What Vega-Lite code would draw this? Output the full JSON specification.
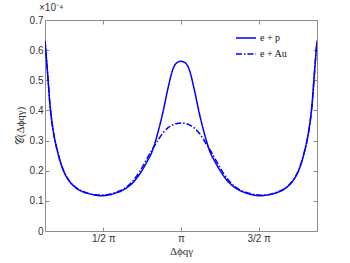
{
  "$schema": "https://vega.github.io/schema/vega-lite/v6.json",
  "width": 272,
  "height": 211,
  "autosize": "none",
  "padding": {"left": 45, "top": 20, "right": 33, "bottom": 32},
  "background": "white",
  "config": {
    "view": {"stroke": null},
    "axis": {"grid": false, "domainColor": "#8c8c8c", "tickColor": "#8c8c8c", "labelColor": "#333333", "labelFont": "Liberation Sans", "labelFontSize": 10, "titleFont": "Liberation Serif", "titleFontWeight": "normal", "titleColor": "#333333", "titleFontSize": 11, "tickSize": -4, "domainWidth": 1}
  },
  "title": {"text": "×10⁻⁴", "anchor": "start", "frame": "group", "fontSize": 10, "font": "Liberation Sans", "fontWeight": "normal", "color": "#333333", "offset": 2, "dx": -6},
  "data": {"values": [
    {"x": 0.125, "v": 0.631, "s": "e + p"},
    {"x": 0.140, "v": 0.534, "s": "e + p"},
    {"x": 0.148, "v": 0.479, "s": "e + p"},
    {"x": 0.156, "v": 0.424, "s": "e + p"},
    {"x": 0.165, "v": 0.380, "s": "e + p"},
    {"x": 0.177, "v": 0.335, "s": "e + p"},
    {"x": 0.190, "v": 0.298, "s": "e + p"},
    {"x": 0.205, "v": 0.265, "s": "e + p"},
    {"x": 0.220, "v": 0.236, "s": "e + p"},
    {"x": 0.240, "v": 0.205, "s": "e + p"},
    {"x": 0.263, "v": 0.180, "s": "e + p"},
    {"x": 0.290, "v": 0.160, "s": "e + p"},
    {"x": 0.327, "v": 0.142, "s": "e + p"},
    {"x": 0.370, "v": 0.130, "s": "e + p"},
    {"x": 0.412, "v": 0.123, "s": "e + p"},
    {"x": 0.450, "v": 0.119, "s": "e + p"},
    {"x": 0.487, "v": 0.117, "s": "e + p"},
    {"x": 0.530, "v": 0.119, "s": "e + p"},
    {"x": 0.580, "v": 0.126, "s": "e + p"},
    {"x": 0.620, "v": 0.134, "s": "e + p"},
    {"x": 0.647, "v": 0.142, "s": "e + p"},
    {"x": 0.690, "v": 0.160, "s": "e + p"},
    {"x": 0.733, "v": 0.188, "s": "e + p"},
    {"x": 0.776, "v": 0.225, "s": "e + p"},
    {"x": 0.818, "v": 0.269, "s": "e + p"},
    {"x": 0.850, "v": 0.324, "s": "e + p"},
    {"x": 0.882, "v": 0.390, "s": "e + p"},
    {"x": 0.914, "v": 0.468, "s": "e + p"},
    {"x": 0.946, "v": 0.534, "s": "e + p"},
    {"x": 0.975, "v": 0.559, "s": "e + p"},
    {"x": 1.000, "v": 0.563, "s": "e + p"},
    {"x": 1.025, "v": 0.559, "s": "e + p"},
    {"x": 1.054, "v": 0.534, "s": "e + p"},
    {"x": 1.086, "v": 0.468, "s": "e + p"},
    {"x": 1.118, "v": 0.390, "s": "e + p"},
    {"x": 1.150, "v": 0.324, "s": "e + p"},
    {"x": 1.182, "v": 0.269, "s": "e + p"},
    {"x": 1.224, "v": 0.225, "s": "e + p"},
    {"x": 1.267, "v": 0.188, "s": "e + p"},
    {"x": 1.310, "v": 0.160, "s": "e + p"},
    {"x": 1.353, "v": 0.142, "s": "e + p"},
    {"x": 1.380, "v": 0.134, "s": "e + p"},
    {"x": 1.420, "v": 0.126, "s": "e + p"},
    {"x": 1.470, "v": 0.119, "s": "e + p"},
    {"x": 1.513, "v": 0.117, "s": "e + p"},
    {"x": 1.550, "v": 0.119, "s": "e + p"},
    {"x": 1.588, "v": 0.123, "s": "e + p"},
    {"x": 1.630, "v": 0.130, "s": "e + p"},
    {"x": 1.673, "v": 0.142, "s": "e + p"},
    {"x": 1.710, "v": 0.160, "s": "e + p"},
    {"x": 1.737, "v": 0.180, "s": "e + p"},
    {"x": 1.760, "v": 0.205, "s": "e + p"},
    {"x": 1.780, "v": 0.236, "s": "e + p"},
    {"x": 1.795, "v": 0.265, "s": "e + p"},
    {"x": 1.810, "v": 0.298, "s": "e + p"},
    {"x": 1.823, "v": 0.335, "s": "e + p"},
    {"x": 1.835, "v": 0.380, "s": "e + p"},
    {"x": 1.844, "v": 0.424, "s": "e + p"},
    {"x": 1.852, "v": 0.479, "s": "e + p"},
    {"x": 1.860, "v": 0.534, "s": "e + p"},
    {"x": 1.875, "v": 0.631, "s": "e + p"},

    {"x": 0.125, "v": 0.631, "s": "e + Au"},
    {"x": 0.140, "v": 0.534, "s": "e + Au"},
    {"x": 0.148, "v": 0.479, "s": "e + Au"},
    {"x": 0.156, "v": 0.424, "s": "e + Au"},
    {"x": 0.165, "v": 0.380, "s": "e + Au"},
    {"x": 0.177, "v": 0.335, "s": "e + Au"},
    {"x": 0.190, "v": 0.298, "s": "e + Au"},
    {"x": 0.205, "v": 0.265, "s": "e + Au"},
    {"x": 0.220, "v": 0.236, "s": "e + Au"},
    {"x": 0.240, "v": 0.206, "s": "e + Au"},
    {"x": 0.263, "v": 0.181, "s": "e + Au"},
    {"x": 0.290, "v": 0.161, "s": "e + Au"},
    {"x": 0.327, "v": 0.143, "s": "e + Au"},
    {"x": 0.370, "v": 0.131, "s": "e + Au"},
    {"x": 0.412, "v": 0.124, "s": "e + Au"},
    {"x": 0.450, "v": 0.120, "s": "e + Au"},
    {"x": 0.487, "v": 0.119, "s": "e + Au"},
    {"x": 0.530, "v": 0.121, "s": "e + Au"},
    {"x": 0.580, "v": 0.128, "s": "e + Au"},
    {"x": 0.620, "v": 0.136, "s": "e + Au"},
    {"x": 0.647, "v": 0.145, "s": "e + Au"},
    {"x": 0.690, "v": 0.166, "s": "e + Au"},
    {"x": 0.733, "v": 0.196, "s": "e + Au"},
    {"x": 0.776, "v": 0.235, "s": "e + Au"},
    {"x": 0.808, "v": 0.265, "s": "e + Au"},
    {"x": 0.840, "v": 0.291, "s": "e + Au"},
    {"x": 0.882, "v": 0.324, "s": "e + Au"},
    {"x": 0.915, "v": 0.342, "s": "e + Au"},
    {"x": 0.946, "v": 0.352, "s": "e + Au"},
    {"x": 0.975, "v": 0.357, "s": "e + Au"},
    {"x": 1.000, "v": 0.358, "s": "e + Au"},
    {"x": 1.025, "v": 0.357, "s": "e + Au"},
    {"x": 1.054, "v": 0.352, "s": "e + Au"},
    {"x": 1.085, "v": 0.342, "s": "e + Au"},
    {"x": 1.118, "v": 0.324, "s": "e + Au"},
    {"x": 1.160, "v": 0.291, "s": "e + Au"},
    {"x": 1.192, "v": 0.265, "s": "e + Au"},
    {"x": 1.224, "v": 0.235, "s": "e + Au"},
    {"x": 1.267, "v": 0.196, "s": "e + Au"},
    {"x": 1.310, "v": 0.166, "s": "e + Au"},
    {"x": 1.353, "v": 0.145, "s": "e + Au"},
    {"x": 1.380, "v": 0.136, "s": "e + Au"},
    {"x": 1.420, "v": 0.128, "s": "e + Au"},
    {"x": 1.470, "v": 0.121, "s": "e + Au"},
    {"x": 1.513, "v": 0.119, "s": "e + Au"},
    {"x": 1.550, "v": 0.120, "s": "e + Au"},
    {"x": 1.588, "v": 0.124, "s": "e + Au"},
    {"x": 1.630, "v": 0.131, "s": "e + Au"},
    {"x": 1.673, "v": 0.143, "s": "e + Au"},
    {"x": 1.710, "v": 0.161, "s": "e + Au"},
    {"x": 1.737, "v": 0.181, "s": "e + Au"},
    {"x": 1.760, "v": 0.206, "s": "e + Au"},
    {"x": 1.780, "v": 0.236, "s": "e + Au"},
    {"x": 1.795, "v": 0.265, "s": "e + Au"},
    {"x": 1.810, "v": 0.298, "s": "e + Au"},
    {"x": 1.823, "v": 0.335, "s": "e + Au"},
    {"x": 1.835, "v": 0.380, "s": "e + Au"},
    {"x": 1.844, "v": 0.424, "s": "e + Au"},
    {"x": 1.852, "v": 0.479, "s": "e + Au"},
    {"x": 1.860, "v": 0.534, "s": "e + Au"},
    {"x": 1.875, "v": 0.631, "s": "e + Au"}
  ]},
  "layer": [
    {
      "mark": {"type": "line", "strokeWidth": 1.5, "clip": true, "interpolate": "monotone"},
      "encoding": {
        "x": {"field": "x", "type": "quantitative", "scale": {"domain": [0.125, 1.875], "nice": false, "zero": false},
          "axis": {"values": [0.5, 1, 1.5], "labelExpr": "datum.value == 0.5 ? '1/2 π' : datum.value == 1 ? 'π' : '3/2 π'", "title": "Δϕqγ", "titlePadding": 2, "labelPadding": 6}},
        "y": {"field": "v", "type": "quantitative", "scale": {"domain": [0, 0.7], "nice": false},
          "axis": {"values": [0, 0.1, 0.2, 0.3, 0.4, 0.5, 0.6, 0.7], "format": ".1~f", "title": "𝒞(Δϕqγ)", "titlePadding": 4, "labelPadding": 6}},
        "color": {"field": "s", "type": "nominal", "scale": {"domain": ["e + p", "e + Au"], "range": ["#0000ff", "#0000ff"]},
          "legend": {"title": null, "orient": "none", "legendX": 190, "legendY": 7, "labelFont": "Liberation Serif", "labelFontSize": 10, "labelColor": "#111111", "symbolType": "stroke", "symbolSize": 400, "symbolStrokeWidth": 1.5, "rowPadding": 0, "labelOffset": 3}},
        "strokeDash": {"field": "s", "type": "nominal", "scale": {"domain": ["e + p", "e + Au"], "range": [[1, 0], [6, 2, 1.5, 2]]}}
      }
    },
    {
      "mark": {"type": "line", "opacity": 0},
      "encoding": {
        "x": {"field": "x", "type": "quantitative", "axis": {"orient": "top", "values": [0.5, 1, 1.5], "labels": false, "title": null}},
        "y": {"field": "v", "type": "quantitative", "axis": {"orient": "right", "values": [0, 0.1, 0.2, 0.3, 0.4, 0.5, 0.6, 0.7], "labels": false, "title": null}},
        "detail": {"field": "s"}
      }
    }
  ],
  "resolve": {"axis": {"x": "independent", "y": "independent"}}
}
